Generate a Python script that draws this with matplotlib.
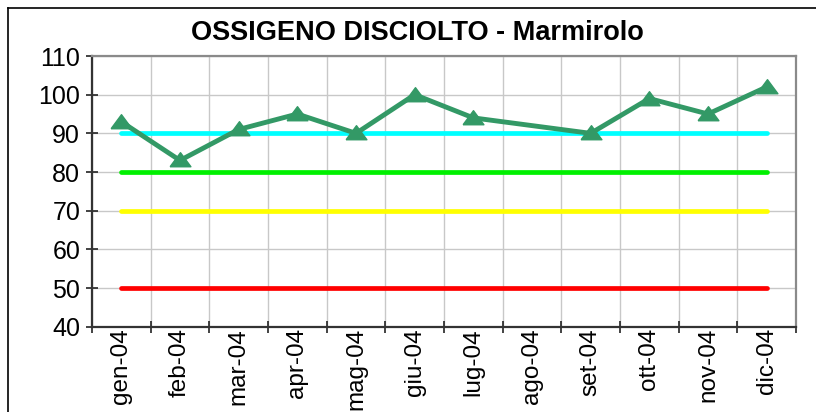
import matplotlib
matplotlib.use("Agg")
import matplotlib.pyplot as plt
from matplotlib.lines import Line2D
import numpy as np

plt.rcParams['font.family'] = ['Liberation Sans', 'DejaVu Sans']

months = ["gen-04", "feb-04", "mar-04", "apr-04", "mag-04", "giu-04",
          "lug-04", "ago-04", "set-04", "ott-04", "nov-04", "dic-04"]
ossigeno = [93, 83, 91, 95, 90, 100, 94, None, 90, 99, 95, 102]

# soglie di classe (colore, valore)
soglie = [90, 80, 70, 50]
colori_soglie = ["#00FFFF", "#00F000", "#FFFF00", "#FF0000"]

fig = plt.figure(figsize=(8.16, 4.12), dpi=100)
ax = fig.add_axes([92 / 816, 1 - 326.7 / 412, 704 / 816, 270.7 / 412])

x = np.arange(len(months))
for val, col in zip(soglie, colori_soglie):
    ax.plot([x[0], x[-1]], [val, val], color=col, lw=3.4,
            solid_capstyle='round', zorder=3)

xs = [i for i, v in enumerate(ossigeno) if v is not None]
ys = [v for v in ossigeno if v is not None]
tri = [(-1, -0.6), (1, -0.6), (0, 0.75), (-1, -0.6)]
ax.plot(xs, ys, color="#339966", lw=3.5, marker=tri, markersize=15,
        zorder=4)

ax.set_xlim(-0.5, len(months) - 0.5)
ax.set_ylim(40, 110)
ax.set_yticks(np.arange(40, 111, 10))
ax.set_xticks(x)
ax.set_xticklabels(months, rotation=90)
ax.set_xticks(np.arange(-0.5, len(months), 1), minor=True)

ax.tick_params(axis='x', which='major', length=0, labelsize=17.5, pad=1)
ax.tick_params(axis='x', which='minor', direction='inout', length=8,
               width=1.2, color='#222222')
ax.tick_params(axis='y', direction='inout', length=9, width=1.2,
               color='#222222', labelsize=18, pad=4)

ax.grid(True, axis='y', color='#c8c8c8', lw=1.0, zorder=0)
ax.grid(True, axis='x', which='minor', color='#c8c8c8', lw=1.0, zorder=0)
ax.set_axisbelow(True)

for s in ['left', 'bottom']:
    ax.spines[s].set_color('#333333')
    ax.spines[s].set_linewidth(1.6)
for s in ['top', 'right']:
    ax.spines[s].set_color('#8a8a8a')
    ax.spines[s].set_linewidth(1.6)

fig.text(0.512, 1 - 33 / 412, "OSSIGENO DISCIOLTO - Marmirolo",
         ha='center', va='center', fontsize=19.5, fontweight='bold')

# bordo del grafico (tagliato a destra e in basso)
fig.add_artist(Line2D([8 / 816, 1], [1 - 8 / 412, 1 - 8 / 412],
                      color='black', lw=1.2, transform=fig.transFigure))
fig.add_artist(Line2D([8 / 816, 8 / 816], [0, 1 - 8 / 412],
                      color='black', lw=1.2, transform=fig.transFigure))

fig.savefig("out.png", dpi=100)
